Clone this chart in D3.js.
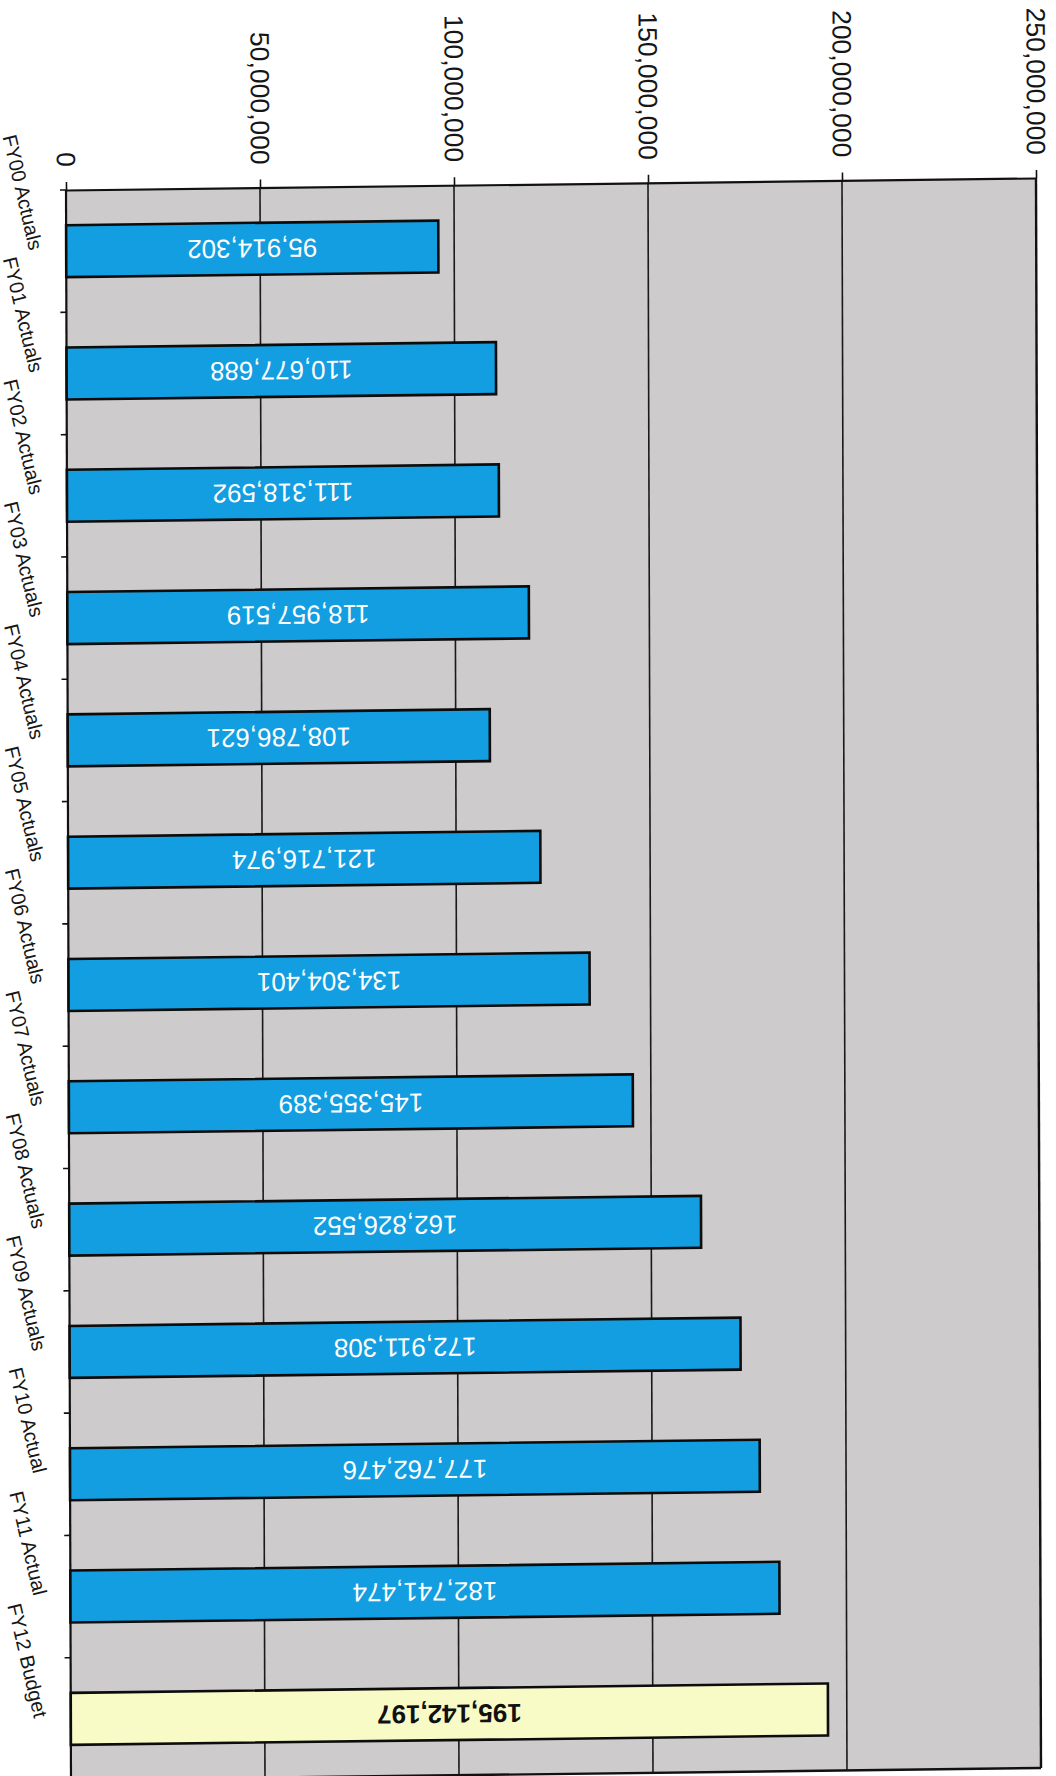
<!DOCTYPE html>
<html>
<head>
<meta charset="utf-8">
<script src="https://cdn.jsdelivr.net/npm/d3@7"></script>
<style>
  html, body { margin: 0; padding: 0; background: #ffffff; }
  svg { display: block; }
  text { font-family: "Liberation Sans", Arial, Helvetica, sans-serif; }
</style>
</head>
<body>
<svg id="chart" width="1056" height="1776"></svg>
<script>
// Fiscal years shown down the page
const categories = [
  "FY00 Actuals", "FY01 Actuals", "FY02 Actuals", "FY03 Actuals",
  "FY04 Actuals", "FY05 Actuals", "FY06 Actuals", "FY07 Actuals",
  "FY08 Actuals", "FY09 Actuals", "FY10 Actual", "FY11 Actual", "FY12 Budget"
];

// Total per year (dollars)
const values = [
  95914302, 110677688, 111318592, 118957519, 108786621, 121716974,
  134304401, 145355389, 162826552, 172911308, 177762476, 182741474, 195142197
];

// Which bars are budget figures rather than actuals
const isBudget = [false, false, false, false, false, false, false,
                  false, false, false, false, false, true];

// Value axis ticks
const tickValues = [0, 50000000, 100000000, 150000000, 200000000, 250000000];

const plot = { left: 66, right: 1036, top: 190, bottom: 1780 };

const svg = d3.select("#chart");

// The printed page sits slightly askew on the sheet
const root = svg.append("g")
  .attr("transform", "matrix(1,-0.01237,0.00314,1,-0.597,0.816)");

const x = d3.scaleLinear()
  .domain([0, 250000000])
  .range([plot.left, plot.right]);

const y = d3.scaleBand()
  .domain(categories)
  .range([plot.top, plot.bottom])
  .paddingInner(0.575)
  .paddingOuter(0.2875);

const fmt = d3.format(",");

// Plot area fill
root.append("rect")
  .attr("x", plot.left).attr("y", plot.top)
  .attr("width", plot.right - plot.left)
  .attr("height", plot.bottom - plot.top)
  .attr("fill", "#cdcbcb");

// Vertical gridlines
root.append("g")
  .selectAll("line")
  .data(tickValues.slice(1, -1))
  .join("line")
  .attr("x1", d => x(d)).attr("x2", d => x(d))
  .attr("y1", plot.top).attr("y2", plot.bottom)
  .attr("stroke", "#1a1a1a")
  .attr("stroke-width", 1.6);

// Value axis along the top, labels turned a quarter
const xAxis = root.append("g")
  .attr("transform", `translate(0,${plot.top})`)
  .call(d3.axisTop(x).tickValues(tickValues).tickFormat(d => d === 0 ? "0" : fmt(d))
    .tickSize(8).tickSizeOuter(0));
xAxis.select(".domain").attr("stroke", "#111").attr("stroke-width", 2.2);
xAxis.selectAll(".tick line").attr("stroke", "#111").attr("stroke-width", 1.6);
xAxis.selectAll(".tick text")
  .attr("fill", "#161616")
  .attr("font-size", 26.5)
  .attr("text-anchor", "end")
  .attr("transform", "translate(0,-23) rotate(90)")
  .attr("x", 0)
  .attr("y", 0)
  .attr("dy", "0.36em");

// Category axis on the left with ticks between bands
const yAxis = root.append("g")
  .attr("transform", `translate(${plot.left},0)`);
yAxis.append("line")
  .attr("x1", 0).attr("x2", 0)
  .attr("y1", plot.top).attr("y2", plot.bottom)
  .attr("stroke", "#111").attr("stroke-width", 2.2);
const step = y.step();
yAxis.selectAll(".band-tick")
  .data(d3.range(categories.length + 1))
  .join("line")
  .attr("class", "band-tick")
  .attr("x1", -6).attr("x2", 0)
  .attr("y1", i => plot.top + i * step)
  .attr("y2", i => plot.top + i * step)
  .attr("stroke", "#111").attr("stroke-width", 1.6);

yAxis.selectAll(".cat-label")
  .data(categories)
  .join("text")
  .attr("class", "cat-label")
  .attr("fill", "#161616")
  .attr("font-size", 20)
  .attr("text-anchor", "end")
  .attr("dy", "0.35em")
  .attr("transform", d => `translate(-30,${y(d) + y.bandwidth() / 2 - 2}) rotate(77)`)
  .text(d => d);

// Right and bottom frame of the plot
root.append("line")
  .attr("x1", plot.right).attr("x2", plot.right)
  .attr("y1", plot.top).attr("y2", plot.bottom)
  .attr("stroke", "#111").attr("stroke-width", 2.4);
root.append("line")
  .attr("x1", plot.left).attr("x2", plot.right)
  .attr("y1", plot.bottom).attr("y2", plot.bottom)
  .attr("stroke", "#111").attr("stroke-width", 2.4);

// Bars
const rows = categories.map((c, i) => ({ cat: c, value: values[i], budget: isBudget[i] }));

root.append("g")
  .selectAll("rect")
  .data(rows)
  .join("rect")
  .attr("x", x(0))
  .attr("y", d => y(d.cat))
  .attr("width", d => x(d.value) - x(0))
  .attr("height", y.bandwidth())
  .attr("fill", d => d.budget ? "#f8fbc6" : "#129ee0")
  .attr("stroke", "#0c0c0c")
  .attr("stroke-width", 2.6);

// Value labels inside the bars, printed upside down
root.append("g")
  .selectAll("text")
  .data(rows)
  .join("text")
  .attr("transform", d => `translate(${(x(0) + x(d.value)) / 2},${y(d.cat) + y.bandwidth() / 2}) rotate(180)`)
  .attr("text-anchor", "middle")
  .attr("dy", "0.36em")
  .attr("font-size", 26)
  .attr("font-weight", d => d.budget ? "bold" : "normal")
  .attr("fill", d => d.budget ? "#111" : "#ffffff")
  .text(d => fmt(d.value));
</script>
</body>
</html>
